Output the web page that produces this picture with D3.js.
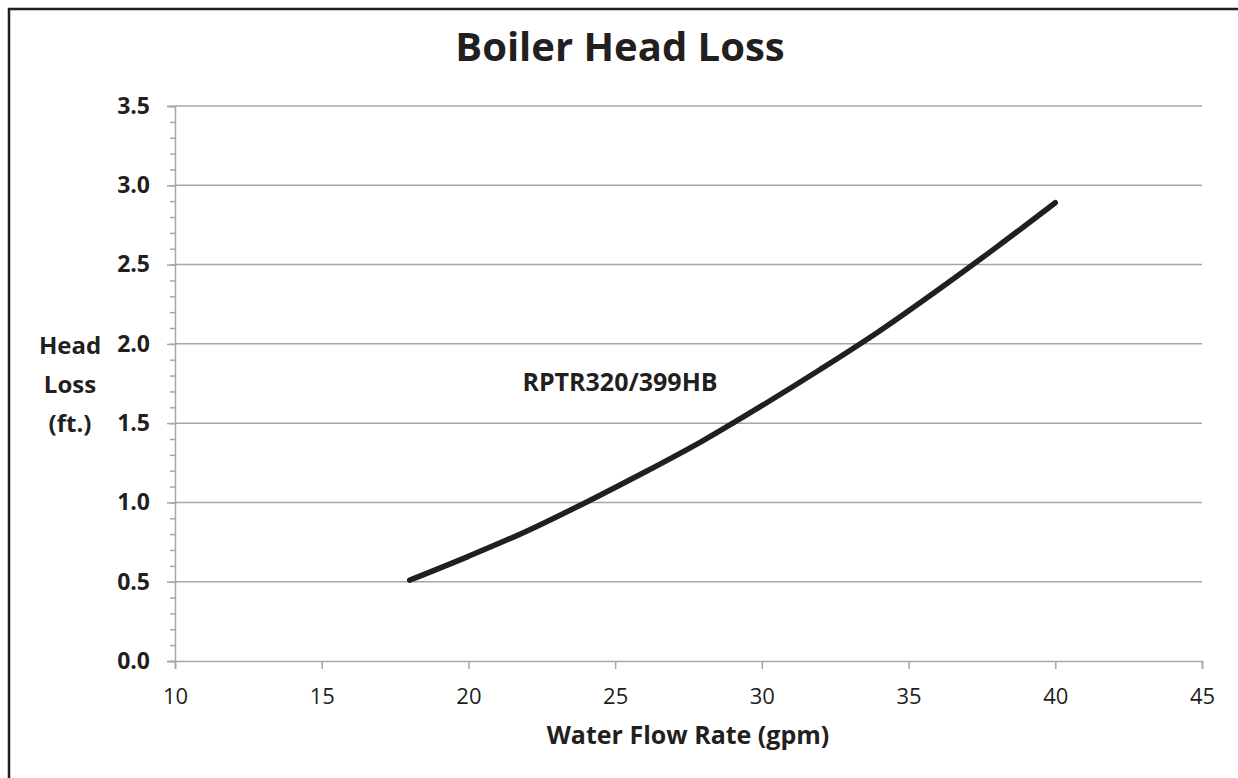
<!DOCTYPE html>
<html>
<head>
<meta charset="utf-8">
<script src="https://cdn.jsdelivr.net/npm/d3@7"></script>
<style>
  body { margin: 0; background: #fff; }
  svg { display: block; }
  text { font-family: "Open Sans", sans-serif; fill: #231f20; }
</style>
</head>
<body>
<div id="chart"></div>
<script>
// data
var flowRate = [18, 20, 22, 24, 26, 28, 30, 32, 34, 36, 38, 40];
var headLoss = [0.51, 0.66, 0.82, 1.00, 1.19, 1.39, 1.61, 1.84, 2.08, 2.34, 2.61, 2.89];
var xTicks = [10, 15, 20, 25, 30, 35, 40, 45];
var yTicks = [0, 0.5, 1.0, 1.5, 2.0, 2.5, 3.0, 3.5];
var seriesName = "RPTR320/399HB";

var W = 1238, H = 778;
var margin = { top: 106, right: 36, bottom: 117, left: 175 };
var width = W - margin.left - margin.right,
    height = H - margin.top - margin.bottom;

var svg = d3.select("#chart").append("svg")
    .attr("width", W)
    .attr("height", H);

// outer frame (only top and left edges are inside the picture)
svg.append("rect")
    .attr("x", 9).attr("y", 9)
    .attr("width", W + 20).attr("height", H + 20)
    .attr("fill", "none")
    .attr("stroke", "#231f20")
    .attr("stroke-width", 2.5);

var g = svg.append("g")
    .attr("transform", "translate(" + margin.left + "," + margin.top + ")");

var x = d3.scaleLinear().domain([10, 45]).range([0, width]);
var y = d3.scaleLinear().domain([0, 3.5]).range([height, 0]);

var grey = "#a6a6a6";

// gridlines
g.append("g").selectAll("line")
    .data(yTicks.slice(1))
    .enter().append("line")
    .attr("x1", 0).attr("x2", width)
    .attr("y1", function (d) { return y(d); })
    .attr("y2", function (d) { return y(d); })
    .attr("stroke", grey)
    .attr("stroke-width", 1.5);

// minor y ticks
var minor = d3.range(0, 36).map(function (i) { return i / 10; });
g.append("g")
    .call(d3.axisLeft(y).tickValues(minor).tickSize(5).tickFormat(""))
    .call(function (a) {
        a.select(".domain").remove();
        a.selectAll("line").attr("stroke", grey).attr("stroke-width", 1.5);
    });

// y axis
g.append("g")
    .call(d3.axisLeft(y).tickValues(yTicks).tickSize(8).tickPadding(17)
        .tickFormat(function (d) { return d.toFixed(1); }))
    .call(function (a) {
        a.select(".domain").attr("stroke", grey).attr("stroke-width", 1.5);
        a.selectAll("line").attr("stroke", grey).attr("stroke-width", 1.5);
        a.selectAll("text")
            .style("font-size", "23px")
            .style("font-weight", "bold")
            .attr("fill", "#231f20")
            .attr("font-family", null);
    });

// x axis
g.append("g")
    .attr("transform", "translate(0," + height + ")")
    .call(d3.axisBottom(x).tickValues(xTicks).tickSize(8).tickPadding(19))
    .call(function (a) {
        a.select(".domain").attr("stroke", grey).attr("stroke-width", 1.5);
        a.selectAll("line").attr("stroke", grey).attr("stroke-width", 1.5);
        a.selectAll("text")
            .style("font-size", "22px")
            .attr("fill", "#231f20")
            .attr("font-family", null);
    });

// curve
var pts = flowRate.map(function (f, i) { return [f, headLoss[i]]; });
var line = d3.line()
    .x(function (d) { return x(d[0]); })
    .y(function (d) { return y(d[1]); })
    .curve(d3.curveMonotoneX);

g.append("path")
    .datum(pts)
    .attr("d", line)
    .attr("fill", "none")
    .attr("stroke", "#231f20")
    .attr("stroke-width", 5.5)
    .attr("stroke-linecap", "round")
    .attr("stroke-linejoin", "round");

// series label
svg.append("text")
    .attr("x", 620).attr("y", 391)
    .attr("text-anchor", "middle")
    .style("font-size", "25px")
    .style("font-weight", "bold")
    .text(seriesName);

// title
svg.append("text")
    .attr("x", 620).attr("y", 61)
    .attr("text-anchor", "middle")
    .style("font-size", "40px")
    .style("font-weight", "bold")
    .text("Boiler Head Loss");

// y axis title
var yt = svg.append("text")
    .attr("text-anchor", "middle")
    .style("font-size", "24px")
    .style("font-weight", "bold");
["Head", "Loss", "(ft.)"].forEach(function (s, i) {
    yt.append("tspan").attr("x", 70).attr("y", 354 + i * 39).text(s);
});

// x axis title
svg.append("text")
    .attr("x", 688).attr("y", 744)
    .attr("text-anchor", "middle")
    .style("font-size", "25px")
    .style("font-weight", "bold")
    .text("Water Flow Rate (gpm)");
</script>
</body>
</html>
